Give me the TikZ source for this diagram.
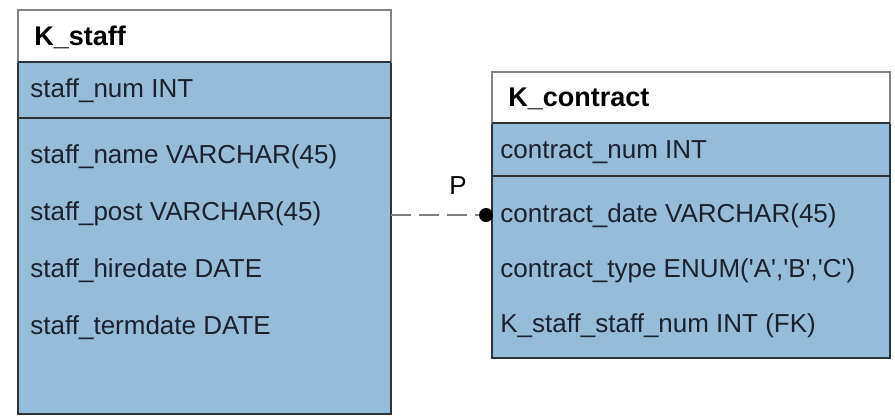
\documentclass[tikz,border=0pt]{standalone}
\usepackage{fontspec}
\setmainfont{Liberation Sans}
\definecolor{rowblue}{HTML}{95BCD9}
\definecolor{edgegray}{HTML}{2E3338}
\definecolor{textdark}{HTML}{1A2230}
\newcommand{\sq}{\textquotesingle}
\begin{document}
\begin{tikzpicture}[x=0.5pt,y=-0.5pt,
  tablebox/.style={draw=edgegray,line width=0.9pt,fill=rowblue},
  headbox/.style={draw=edgegray!60,line width=0.9pt,fill=white},
  rowtext/.style={anchor=west,inner sep=0pt,text=textdark,font=\fontsize{13}{15}\selectfont},
  headtext/.style={anchor=west,inner sep=0pt,font=\fontsize{13.5}{15}\selectfont\bfseries}]
  \useasboundingbox (0,0) rectangle (895,419);
  \pgfmathsetmacro{\sl}{18}
  \pgfmathsetmacro{\sr}{391}
  \pgfmathsetmacro{\cl}{492}
  \pgfmathsetmacro{\cr}{890}

  % Staff table.
  \draw[tablebox] (\sl,62) rectangle (\sr,414);
  \draw[headbox] (\sl,10) rectangle (\sr,62);
  \draw[edgegray,line width=0.9pt] (\sl,62) -- (\sr,62);
  \draw[edgegray,line width=0.9pt] (\sl,118) -- (\sr,118);
  \node[headtext] (staffhead) at (34,37) {K\_staff};
  \node[rowtext] (staffkey) at (30,91) {staff\_num INT};
  \foreach \t [count=\i] in {staff\_name VARCHAR(45),staff\_post VARCHAR(45),
    staff\_hiredate DATE,staff\_termdate DATE}
  \node[rowtext] (staff\i) at (30,100+57*\i) {\t};

  % Contract table.
  \draw[tablebox] (\cl,123) rectangle (\cr,358);
  \draw[headbox] (\cl,72) rectangle (\cr,123);
  \draw[edgegray,line width=0.9pt] (\cl,123) -- (\cr,123);
  \draw[edgegray,line width=0.9pt] (\cl,176) -- (\cr,176);
  \node[headtext] (contracthead) at (508,99) {K\_contract};
  \node[rowtext] (contractkey) at (500,152) {contract\_num INT};
  \foreach \t [count=\i] in {{contract\_date VARCHAR(45)},{contract\_type ENUM(\sq A\sq,\sq B\sq,\sq C\sq)},
    {K\_staff\_staff\_num INT (FK)}}
  \node[rowtext] (contract\i) at (500,161+55*\i) {\t};

  % Relation.
  \coordinate (staffedge) at (\sr,215);
  \node[circle,fill=black,inner sep=0pt,minimum size=7pt] (pdot) at (486,215) {};
  \draw[gray,line width=1pt,dash pattern=on 10pt off 4pt] (staffedge) -- (pdot);
  \node[rowtext,anchor=center,text=black] (plabel) at (458,186) {P};
\end{tikzpicture}
\end{document}
